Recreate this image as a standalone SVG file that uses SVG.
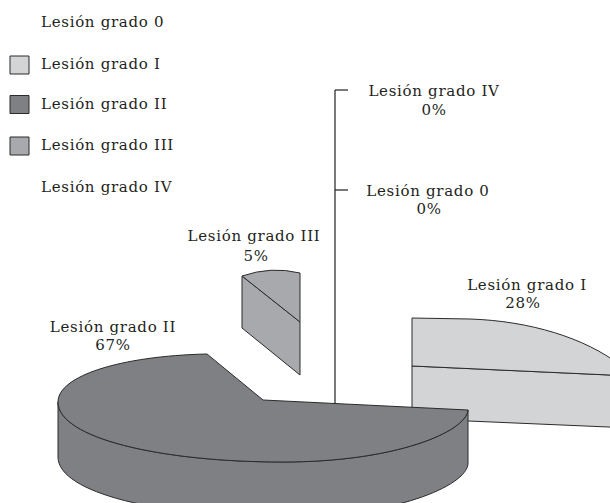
<svg xmlns="http://www.w3.org/2000/svg" width="610" height="503" viewBox="0 0 610 503">
<style>
text{font-family:"DejaVu Serif","Liberation Serif",serif;font-size:15px;fill:#231f20;letter-spacing:0.7px}
.c{text-anchor:middle}
.s{stroke:#2b2b2b;stroke-width:1;stroke-linejoin:round}
.g1{fill:#d3d4d6}
.g2{fill:#7f8083}
.g3{fill:#a8a9ac}
.ln{stroke:#231f20;stroke-width:1.2;fill:none}
</style>
<rect width="610" height="503" fill="#ffffff"/>
<g id="legend">
<g id="legend-0"><text x="41" y="26.5">Lesión grado 0</text></g>
<g id="legend-I"><rect class="s g1" x="10" y="56" width="19" height="18" stroke-width="1.5"/><text x="41" y="68.5">Lesión grado I</text></g>
<g id="legend-II"><rect class="s g2" x="10" y="95.5" width="19" height="18" stroke-width="1.5"/><text x="41" y="108.5">Lesión grado II</text></g>
<g id="legend-III"><rect class="s g3" x="10" y="137" width="19" height="18" stroke-width="1.5"/><text x="41" y="150">Lesión grado III</text></g>
<g id="legend-IV"><text x="41" y="191.5">Lesión grado IV</text></g>
</g>
<g id="slice-I">
<path class="s g1" d="M412,366 L620,375.5 L620,427.5 L412,418.6 Z"/>
<path class="s g1" d="M412,318 L470,319 C530,321 585,338 620,365 L620,375.5 L412,366 Z"/>
</g>
<g id="slice-III">
<path class="s g3" d="M242,276 L300,322 L300,375 L242,328 Z"/>
<path class="s g3" d="M242,276 Q271,266 300,273 L300,322 Z"/>
</g>
<g id="connectors">
<path class="ln" d="M335,90 L335,404"/>
<path class="ln" d="M335,90 L348,90"/>
<path class="ln" d="M335,190 L348,190"/>
</g>
<g id="slice-II">
<path class="s g2" d="M58,402 C58,438 160,462 283,462 C395,462 466,432 468,410 L468,464 C466,486 395,517 283,517 C160,517 58,493 58,457 Z"/>
<path class="s g2" d="M207,354 L263,400 L468,410 C466,432 395,462 283,462 C160,462 58,438 58,402 C58,376 120,356 207,354 Z"/>
</g>
<g id="label-IV"><text class="c" x="434" y="96">Lesión grado IV</text><text class="c" x="434" y="115">0%</text></g>
<g id="label-0"><text class="c" x="428" y="195.5">Lesión grado 0</text><text class="c" x="429" y="213.5">0%</text></g>
<g id="label-III"><text class="c" x="254" y="240.5">Lesión grado III</text><text class="c" x="256" y="261">5%</text></g>
<g id="label-I"><text class="c" x="527" y="289.5">Lesión grado I</text><text class="c" x="523" y="307.5">28%</text></g>
<g id="label-II"><text class="c" x="113" y="331.5">Lesión grado II</text><text class="c" x="113" y="350">67%</text></g>
</svg>
